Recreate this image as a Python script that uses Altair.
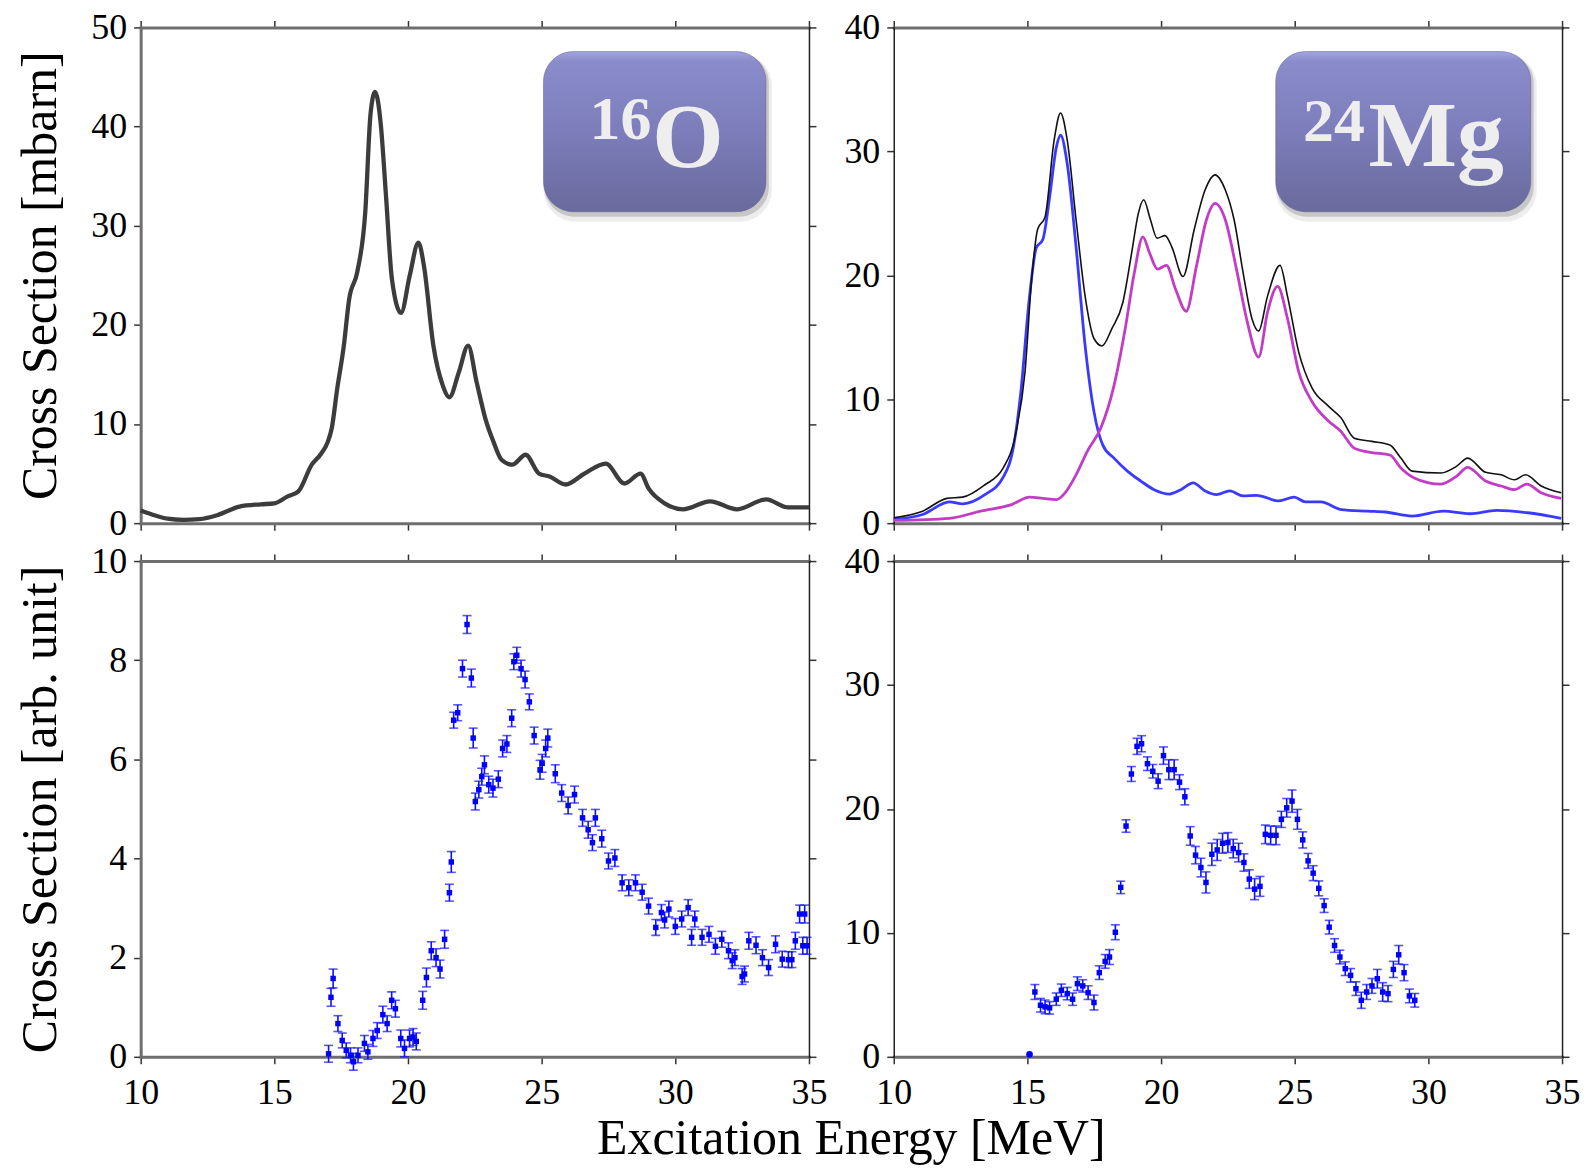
import altair as alt
import pandas as pd

# ---------------- data ----------------
# 16O theory (top-left)
o16_E = [10.0, 10.4, 11.0, 11.6, 12.2, 12.9, 13.7, 14.5, 15.0, 15.5, 15.9, 16.4, 16.75, 17.0,
         17.15, 17.35, 17.6, 17.8, 18.1, 18.4, 18.6, 18.77, 18.98, 19.18, 19.4, 19.74, 20.06,
         20.39, 20.6, 20.95, 21.3, 21.55, 21.9, 22.25, 22.57, 22.9, 23.2, 23.5, 23.9, 24.4,
         24.9, 25.3, 25.9, 26.6, 27.4, 28.1, 28.7, 29.0, 29.6, 30.3, 31.3, 32.3, 33.4, 34.2, 35.0]
o16_sigma = [1.27, 0.9, 0.45, 0.33, 0.4, 0.84, 1.67, 1.9, 2.0, 2.7, 3.2, 5.9, 7.0, 8.2,
             9.6, 13.5, 17.9, 22.6, 25.3, 31.3, 41.3, 43.5, 40.3, 32.9, 24.6, 21.2, 24.9,
             28.3, 25.9, 17.9, 13.9, 12.7, 15.2, 17.9, 14.2, 10.5, 8.2, 6.4, 5.9, 6.9,
             5.0, 4.7, 3.9, 5.0, 6.0, 4.0, 5.0, 3.5, 2.0, 1.4, 2.2, 1.4, 2.4, 1.6, 1.6]

# 24Mg theory (top-right): total (black), blue component, magenta component
mg_tot_E = [10.0, 11.08, 11.99, 12.58, 13.41, 14.08, 14.58, 14.91, 15.16, 15.38, 15.66, 16.0,
            16.24, 16.49, 16.82, 17.16, 17.49, 17.79, 18.16, 18.57, 18.9, 19.15, 19.35, 19.6,
            19.85, 20.15, 20.4, 20.82, 21.24, 21.65, 22.02, 22.4, 22.73, 23.07, 23.4, 23.65,
            23.98, 24.45, 24.73, 25.15, 25.65, 26.23, 26.73, 27.23, 27.89, 28.56, 28.97, 29.39,
            30.47, 31.06, 31.47, 32.14, 32.72, 33.22, 33.63, 34.22, 34.97]
mg_tot = [0.44, 0.97, 2.0, 2.1, 3.1, 4.4, 7.4, 12.2, 19.7, 23.7, 24.7, 30.9,
          33.1, 30.9, 24.5, 18.3, 14.9, 14.3, 15.7, 17.8, 21.8, 25.0, 26.1, 24.5,
          23.0, 23.2, 22.3, 19.9, 23.7, 26.9, 28.1, 26.9, 24.5, 20.2, 16.5, 15.5,
          18.3, 20.8, 18.3, 13.8, 10.9, 9.5, 8.5, 6.85, 6.6, 6.3, 5.25, 4.2,
          4.05, 4.6, 5.25, 4.1, 3.9, 3.5, 3.9, 3.0, 2.45]
mg_blue_E = [10.0, 11.08, 12.08, 12.58, 13.41, 14.08, 14.49, 14.74, 15.08, 15.33, 15.58, 15.83,
             16.08, 16.24, 16.49, 16.82, 17.16, 17.49, 17.82, 18.24, 18.74, 19.24, 19.74, 20.32,
             20.74, 21.2, 21.65, 22.07, 22.57, 23.07, 23.57, 24.4, 24.98, 25.4, 25.98, 26.73,
             27.73, 28.39, 29.39, 30.56, 31.55, 32.55, 33.72, 34.97]
mg_blue = [0.3, 0.7, 1.72, 1.56, 2.3, 3.65, 6.3, 10.3, 18.3, 22.2, 22.9, 26.3,
           30.3, 31.3, 29.0, 22.3, 14.3, 9.0, 6.3, 5.25, 4.2, 3.4, 2.7, 2.35,
           2.7, 3.25, 2.6, 2.3, 2.6, 2.2, 2.25, 1.8, 2.1, 1.72, 1.72, 1.1,
           0.97, 0.9, 0.57, 0.97, 0.76, 1.03, 0.84, 0.39]
mg_mag_E = [10.0, 12.08, 13.25, 14.41, 15.08, 15.58, 16.08, 16.41, 16.82, 17.24, 17.74, 18.24,
            18.66, 19.0, 19.32, 19.57, 19.87, 20.2, 20.54, 20.94, 21.32, 21.7, 22.02, 22.4,
            22.82, 23.23, 23.65, 23.98, 24.36, 24.73, 25.15, 25.65, 26.23, 26.73, 27.23, 27.89,
            28.56, 28.97, 29.47, 30.47, 31.06, 31.47, 32.14, 32.72, 33.22, 33.68, 34.22, 34.97]
mg_mag = [0.22, 0.39, 0.97, 1.5, 2.1, 2.0, 1.9, 2.45, 3.9, 5.8, 7.65, 11.1,
          15.7, 20.2, 23.1, 21.8, 20.5, 20.8, 18.9, 17.1, 20.7, 24.5, 25.8, 24.5,
          20.5, 16.2, 13.4, 17.0, 19.1, 16.5, 12.2, 9.8, 8.3, 7.4, 6.05, 5.7,
          5.5, 4.45, 3.65, 3.15, 3.8, 4.5, 3.4, 3.0, 2.7, 3.15, 2.45, 2.0]

# 16O experiment (bottom-left)
o16_exp_E = [17.03, 17.12, 17.2, 17.38, 17.54, 17.69, 17.85, 17.96, 18.13, 18.37,
             18.5, 18.69, 18.85, 19.06, 19.22, 19.39, 19.53, 19.73, 19.87, 20.06,
             20.19, 20.31, 20.55, 20.69, 20.87, 21.05, 21.2, 21.37, 21.55, 21.62,
             21.71, 21.86, 22.04, 22.21, 22.37, 22.44, 22.52, 22.65, 22.76, 22.86,
             23.02, 23.18, 23.38, 23.54, 23.7, 23.88, 23.96, 24.07, 24.23, 24.38,
             24.54, 24.72, 24.94, 25.02, 25.15, 25.23, 25.51, 25.75, 25.99, 26.23,
             26.53, 26.74, 26.9, 27.01, 27.25, 27.5, 27.74, 28.01, 28.26, 28.51,
             28.76, 29.0, 29.27, 29.48, 29.6, 29.76, 30.0, 30.24, 30.48, 30.61,
             30.73, 31.0, 31.26, 31.5, 31.74, 31.99, 32.13, 32.23, 32.5, 32.59,
             32.75, 33.02, 33.26, 33.49, 33.75, 34.0, 34.23, 34.36, 34.49, 34.65,
             34.77, 34.84, 34.93]
o16_exp = [0.06, 1.2, 1.58, 0.67, 0.33, 0.13, 0.03, -0.1, 0.03, 0.27,
           0.1, 0.37, 0.53, 0.85, 0.67, 1.14, 0.97, 0.37, 0.17, 0.37,
           0.4, 0.31, 1.14, 1.6, 2.14, 2.0, 1.77, 2.37, 3.31, 3.93,
           6.79, 6.94, 7.83, 8.72, 7.64, 6.43, 5.15, 5.39, 5.65, 5.89,
           5.49, 5.42, 5.6, 6.22, 6.31, 6.83, 7.97, 8.1, 7.83, 7.61,
           7.16, 6.48, 5.79, 5.92, 6.22, 6.43, 5.71, 5.32, 5.07, 5.29,
           4.82, 4.58, 4.32, 4.82, 4.4, 3.95, 4.01, 3.51, 3.41, 3.51,
           3.32, 3.04, 2.61, 2.91, 2.76, 2.98, 2.63, 2.78, 3.01, 2.41,
           2.78, 2.41, 2.47, 2.23, 2.37, 2.14, 1.94, 2.0, 1.62, 1.67,
           2.34, 2.25, 2.0, 1.8, 2.27, 1.97, 1.96, 1.96, 2.34, 2.88,
           2.24, 2.88, 2.24]
o16_exp_err = [0.17, 0.18, 0.19, 0.16, 0.15, 0.15, 0.15, 0.17, 0.15, 0.16,
               0.15, 0.16, 0.16, 0.17, 0.16, 0.17, 0.17, 0.17, 0.17, 0.17,
               0.17, 0.17, 0.18, 0.19, 0.18, 0.18, 0.18, 0.18, 0.17, 0.21,
               0.16, 0.16, 0.17, 0.18, 0.18, 0.2, 0.17, 0.17, 0.17, 0.18,
               0.17, 0.18, 0.17, 0.17, 0.17, 0.17, 0.16, 0.16, 0.17, 0.17,
               0.16, 0.17, 0.19, 0.18, 0.17, 0.18, 0.18, 0.17, 0.17, 0.17,
               0.17, 0.17, 0.16, 0.17, 0.17, 0.16, 0.17, 0.16, 0.16, 0.16,
               0.16, 0.16, 0.16, 0.16, 0.16, 0.16, 0.16, 0.16, 0.16, 0.16,
               0.16, 0.16, 0.16, 0.16, 0.16, 0.16, 0.16, 0.16, 0.16, 0.16,
               0.17, 0.17, 0.16, 0.16, 0.17, 0.16, 0.16, 0.16, 0.17, 0.18,
               0.17, 0.18, 0.17]

# 24Mg experiment (bottom-right)
mg_exp_E = [15.08, 15.28, 15.49, 15.66, 15.83, 16.08, 16.27, 16.49, 16.69, 16.87,
            17.07, 17.27, 17.49, 17.69, 17.91, 18.07, 18.29, 18.49, 18.69, 18.89,
            19.1, 19.27, 19.49, 19.69, 19.89, 20.09, 20.29, 20.49, 20.69, 20.89,
            21.09, 21.29, 21.49, 21.68, 21.9, 22.1, 22.3, 22.5, 22.7, 22.9,
            23.1, 23.3, 23.5, 23.7, 23.9, 24.1, 24.3, 24.5, 24.7, 24.9,
            25.1, 25.3, 25.5, 25.69, 25.9, 26.1, 26.29, 26.49, 26.69, 26.89,
            27.09, 27.29, 27.49, 27.69, 27.89, 28.09, 28.29, 28.49, 28.69, 28.89,
            29.09, 29.29, 29.49]
mg_exp = [0.2, 5.23, 4.16, 4.03, 3.95, 4.65, 5.37, 5.1, 4.65, 5.9,
          5.72, 5.18, 4.38, 6.79, 7.7, 8.05, 10.05, 13.67, 18.62, 22.82,
          25.05, 25.26, 23.65, 23.04, 22.24, 24.3, 23.17, 23.17, 22.16, 20.98,
          17.82, 16.27, 15.27, 14.07, 16.34, 16.69, 17.23, 17.29, 16.8, 16.48,
          15.68, 14.34, 13.53, 13.75, 17.95, 17.87, 17.87, 19.16, 20.09, 20.63,
          19.16, 17.5, 15.81, 14.82, 13.59, 12.2, 10.46, 8.98, 8.05, 7.11,
          6.57, 5.5, 4.56, 5.23, 5.72, 6.3, 5.23, 5.1, 7.05, 8.23,
          6.79, 4.91, 4.56]
mg_exp_err = [0.0, 0.6, 0.55, 0.55, 0.5, 0.5, 0.5, 0.5, 0.5, 0.55,
              0.5, 0.55, 0.6, 0.55, 0.55, 0.6, 0.6, 0.5, 0.5, 0.6,
              0.65, 0.65, 0.55, 0.55, 0.6, 0.7, 0.8, 0.8, 0.6, 0.65,
              0.75, 0.7, 0.75, 0.85, 0.9, 0.85, 0.8, 0.8, 0.75, 0.75,
              0.7, 0.75, 0.85, 0.8, 0.75, 0.75, 0.75, 0.65, 0.75, 0.9,
              0.8, 0.65, 0.6, 0.6, 0.6, 0.55, 0.55, 0.55, 0.55, 0.55,
              0.55, 0.55, 0.65, 0.6, 0.6, 0.75, 0.75, 0.65, 0.65, 0.75,
              0.65, 0.55, 0.55]

x_ticks = [10, 15, 20, 25, 30, 35]
y_ticks_top_left = [0, 10, 20, 30, 40, 50]
y_ticks_mg = [0, 10, 20, 30, 40]
y_ticks_bottom_left = [0, 2, 4, 6, 8, 10]

# Nucleus labels (badge extents in data units, text pieces)
badge_o16 = {"x": 25.07, "x2": 33.39, "y": 31.41, "y2": 47.56}
badge_mg = {"x": 24.29, "x2": 33.83, "y": 25.13, "y2": 38.05}
label_o16 = [("16", 26.79, 38.74, 62), ("O", 29.14, 35.9, 92)]
label_mg = [("24", 25.31, 30.86, 62), ("Mg", 27.76, 28.83, 94)]

# ---------------- style ----------------
FONT = "Liberation Serif"
GRAY = "#6e6e6e"
W, H = 670, 497


def xscale():
    return alt.Scale(domain=[10, 35], nice=False, zero=False)


def yscale(dom):
    return alt.Scale(domain=dom, nice=False, zero=False)


def ax(**kw):
    base = dict(grid=False, tickColor="#333333", tickWidth=1.5, tickSize=7,
                labelFont=FONT, labelFontSize=36, labelColor="black",
                titleFont=FONT, titleFontSize=50, titleFontWeight="normal",
                titleColor="black", domainCap="square")
    base.update(kw)
    return alt.Axis(**base)


def x_bottom(labels, title=None):
    kw = dict(orient="bottom", values=x_ticks, labels=labels, labelFlush=False,
              labelPadding=12, domainColor=GRAY, domainWidth=3, format="d")
    if title:
        kw.update(titleX=712, titlePadding=3, titleAlign="center", titleFontSize=50)
        return alt.X("E:Q", scale=xscale(), title=title, axis=ax(**kw))
    return alt.X("E:Q", scale=xscale(), title=None, axis=ax(**kw))


def x_top():
    return alt.X("E:Q", scale=xscale(), title=None,
                 axis=ax(orient="top", values=x_ticks, labels=False,
                         domainColor=GRAY, domainWidth=3))


def y_left(field, dom, vals, title, dcolor, dwidth):
    kw = dict(orient="left", values=vals, format="d", labelPadding=7,
              domainColor=dcolor, domainWidth=dwidth)
    if title:
        kw.update(titlePadding=25)
        return alt.Y(field, scale=yscale(dom), title=title, axis=ax(**kw))
    return alt.Y(field, scale=yscale(dom), title=None, axis=ax(**kw))


def y_right(field, dom, vals):
    return alt.Y(field, scale=yscale(dom), title=None,
                 axis=ax(orient="right", values=vals, labels=False,
                         domainColor="#222222", domainWidth=1.5))


def xn(field="E:Q"):
    return alt.X(field, scale=xscale(), axis=None)


def yn(field, dom):
    return alt.Y(field, scale=yscale(dom), axis=None)


def frame_layer(dom, vals):
    df = pd.DataFrame({"E": [10, 35], "v": dom})
    return alt.Chart(df).mark_point(opacity=0).encode(
        x=x_top(), y=y_right("v:Q", dom, vals))


def badge_layers(b, labels, dom):
    bdf = pd.DataFrame([b])
    fill = alt.Gradient(
        gradient="linear", x1=0, x2=0, y1=0, y2=1,
        stops=[alt.GradientStop(color="#a3a5e0", offset=0.0),
               alt.GradientStop(color="#8a8ccb", offset=0.06),
               alt.GradientStop(color="#7c7dba", offset=0.5),
               alt.GradientStop(color="#6a6a9d", offset=1.0)])
    enc = dict(x=xn("x:Q"), x2="x2:Q", y=yn("y:Q", dom), y2="y2:Q")
    shadow2 = alt.Chart(bdf).mark_rect(color="#000000", opacity=0.07, cornerRadius=32,
                                       xOffset=0, x2Offset=6, yOffset=10, y2Offset=2).encode(**enc)
    shadow1 = alt.Chart(bdf).mark_rect(color="#000000", opacity=0.16, cornerRadius=30,
                                       xOffset=1, x2Offset=3, yOffset=5, y2Offset=2).encode(**enc)
    rect = alt.Chart(bdf).mark_rect(fill=fill, cornerRadius=30, stroke="#5c5c8c",
                                    strokeWidth=1, strokeOpacity=0.5).encode(**enc)
    tdf = pd.DataFrame(labels, columns=["t", "x", "y", "fs"])
    txt = alt.Chart(tdf).mark_text(font=FONT, fontWeight="bold", color="#eeeeee",
                                   align="left", baseline="alphabetic").encode(
        x=xn("x:Q"), y=yn("y:Q", dom), text="t:N",
        size=alt.Size("fs:Q", scale=None, legend=None))
    return [shadow2, shadow1, rect, txt]


# ---------------- top-left: 16O theory ----------------
dom_tl = [0, 50]
df_o16 = pd.DataFrame({"E": o16_E, "S": o16_sigma})
tl_line = alt.Chart(df_o16).mark_line(color="#3c3c3c", strokeWidth=4.3, interpolate="monotone").encode(
    x=x_bottom(False),
    y=y_left("S:Q", dom_tl, y_ticks_top_left, "Cross Section [mbarn]", GRAY, 3))
tl = alt.layer(tl_line, frame_layer(dom_tl, y_ticks_top_left),
               *badge_layers(badge_o16, label_o16, dom_tl)).resolve_axis(
    x="independent", y="independent").properties(width=W, height=H)

# ---------------- top-right: 24Mg theory ----------------
dom_tr = [0, 40]
df_blue = pd.DataFrame({"E": mg_blue_E, "S": mg_blue})
df_mag = pd.DataFrame({"E": mg_mag_E, "S": mg_mag})
df_tot = pd.DataFrame({"E": mg_tot_E, "S": mg_tot})
tr_blue = alt.Chart(df_blue).mark_line(color="#3a3aff", strokeWidth=2.8, interpolate="monotone").encode(
    x=x_bottom(False),
    y=y_left("S:Q", dom_tr, y_ticks_mg, None, "#222222", 1.5))
tr_mag = alt.Chart(df_mag).mark_line(color="#c23cc6", strokeWidth=2.8, interpolate="monotone").encode(
    x=xn(), y=yn("S:Q", dom_tr))
tr_tot = alt.Chart(df_tot).mark_line(color="#111111", strokeWidth=1.6, interpolate="monotone").encode(
    x=xn(), y=yn("S:Q", dom_tr))
tr = alt.layer(tr_blue, tr_mag, tr_tot, frame_layer(dom_tr, y_ticks_mg),
               *badge_layers(badge_mg, label_mg, dom_tr)).resolve_axis(
    x="independent", y="independent").properties(width=W, height=H)


# ---------------- experimental panels ----------------
def exp_panel(E, v, err, dom, vals, title, left_color, left_width, xtitle, sq):
    df = pd.DataFrame({"E": E, "v": v, "err": err})
    df["lo"] = df["v"] - df["err"]
    df["hi"] = df["v"] + df["err"]
    base = alt.Chart(df)
    bars = base.transform_filter("datum.err > 0")
    rule = bars.mark_rule(color="#1010ff", strokeWidth=1.6).encode(
        x=xn(), y=yn("lo:Q", dom), y2="hi:Q")
    cap_lo = bars.mark_tick(color="#1010ff", orient="horizontal", size=9, thickness=1.6).encode(
        x=xn(), y=yn("lo:Q", dom))
    cap_hi = bars.mark_tick(color="#1010ff", orient="horizontal", size=9, thickness=1.6).encode(
        x=xn(), y=yn("hi:Q", dom))
    pts = bars.mark_square(color="#0000ff", size=sq, opacity=1).encode(
        x=x_bottom(True, xtitle),
        y=y_left("v:Q", dom, vals, title, left_color, left_width))
    dots = base.transform_filter("datum.err <= 0").mark_circle(color="#0000ff", size=45, opacity=1).encode(
        x=xn(), y=yn("v:Q", dom))
    return alt.layer(rule, cap_lo, cap_hi, pts, dots, frame_layer(dom, vals)).resolve_axis(
        x="independent", y="independent").properties(width=W, height=H)


bl = exp_panel(o16_exp_E, o16_exp, o16_exp_err, [0, 10], y_ticks_bottom_left,
               "Cross Section [arb. unit]", GRAY, 3, "Excitation Energy [MeV]", 30)
br = exp_panel(mg_exp_E, mg_exp, mg_exp_err, [0, 40], y_ticks_mg,
               None, "#222222", 1.5, None, 30)

chart = alt.concat(tl, tr, bl, br, columns=2, spacing={"row": 38, "column": 85},
                   bounds="flush").properties(
    padding={"left": 7, "top": 0, "right": 0, "bottom": 0},
    background="white").configure_view(strokeWidth=0)

chart.save("out.html", embed_options={"renderer": "svg", "actions": False})
